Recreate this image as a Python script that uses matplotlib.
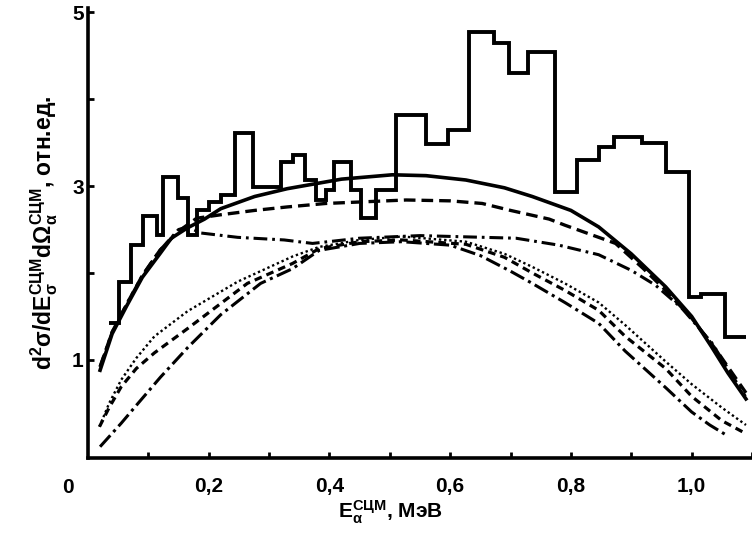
import matplotlib
matplotlib.use("Agg")
import matplotlib.pyplot as plt

plt.rcParams['font.family'] = ['Liberation Sans', 'DejaVu Sans']
plt.rcParams['font.weight'] = 'bold'
plt.rcParams['mathtext.fontset'] = 'custom'
plt.rcParams['mathtext.rm'] = 'Liberation Sans:bold'
plt.rcParams['mathtext.it'] = 'Liberation Sans:bold'
plt.rcParams['mathtext.bf'] = 'Liberation Sans:bold'
plt.rcParams['mathtext.default'] = 'bf'

# histogram (experiment)
hist_edges = [0.035, 0.052, 0.072, 0.091, 0.114, 0.125, 0.149, 0.166, 0.18, 0.20,
              0.22, 0.243, 0.273, 0.32, 0.339, 0.359, 0.378, 0.394, 0.408, 0.436,
              0.452, 0.477, 0.51, 0.56, 0.596, 0.631, 0.673, 0.698, 0.729, 0.774,
              0.81, 0.846, 0.871, 0.918, 0.957, 0.995, 1.015, 1.055, 1.09]
hist_vals = [1.42, 1.90, 2.32, 2.65, 2.44, 3.11, 2.86, 2.44, 2.72, 2.82,
             2.9, 3.61, 2.99, 3.28, 3.36, 3.07, 2.84, 2.95, 3.28, 2.95,
             2.63, 2.95, 3.82, 3.49, 3.64, 4.77, 4.65, 4.30, 4.54, 2.93,
             3.30, 3.45, 3.57, 3.50, 3.16, 1.72, 1.76, 1.26]

# upper group of calculated curves
solid_x = [0.02, 0.04, 0.064, 0.09, 0.119, 0.138, 0.165, 0.193, 0.22, 0.276, 0.33,
           0.42, 0.504, 0.56, 0.626, 0.69, 0.736, 0.8, 0.846, 0.9, 0.957, 1.0,
           1.033, 1.06, 1.09]
solid_y = [0.88, 1.30, 1.62, 1.95, 2.22, 2.40, 2.52, 2.62, 2.74, 2.88, 2.97,
           3.08, 3.13, 3.12, 3.07, 2.98, 2.88, 2.72, 2.53, 2.22, 1.84, 1.50,
           1.15, 0.85, 0.55]

dash_x = [0.02, 0.04, 0.064, 0.09, 0.119, 0.15, 0.18, 0.22, 0.276, 0.33, 0.394,
          0.527, 0.6, 0.653, 0.7, 0.764, 0.79, 0.874, 0.92, 0.957, 1.0, 1.04, 1.09]
dash_y = [0.92, 1.32, 1.64, 1.97, 2.26, 2.48, 2.63, 2.67, 2.72, 2.76, 2.80,
          2.84, 2.83, 2.80, 2.72, 2.62, 2.55, 2.34, 2.05, 1.80, 1.48, 1.12, 0.62]

dashdot_x = [0.02, 0.04, 0.064, 0.09, 0.119, 0.15, 0.165, 0.187, 0.248, 0.325,
             0.372, 0.45, 0.55, 0.709, 0.78, 0.846, 0.9, 0.94, 0.983, 1.033,
             1.06, 1.089]
dashdot_y = [0.92, 1.32, 1.64, 1.97, 2.26, 2.50, 2.53, 2.46, 2.41, 2.38,
             2.34, 2.40, 2.43, 2.40, 2.32, 2.21, 2.03, 1.86, 1.60, 1.20,
             0.90, 0.58]

# lower group of calculated curves
dot_x = [0.019, 0.035, 0.055, 0.08, 0.11, 0.165, 0.248, 0.339, 0.383, 0.45, 0.52,
         0.626, 0.69, 0.736, 0.79, 0.846, 0.89, 0.957, 1.0, 1.05, 1.09]
dot_y = [0.23, 0.50, 0.77, 1.02, 1.27, 1.56, 1.90, 2.19, 2.30, 2.38, 2.42,
         2.36, 2.22, 2.07, 1.88, 1.66, 1.40, 0.98, 0.72, 0.45, 0.25]

ldash_x = [0.019, 0.035, 0.055, 0.08, 0.11, 0.165, 0.264, 0.339, 0.383, 0.45, 0.52,
           0.626, 0.69, 0.736, 0.79, 0.846, 0.89, 0.957, 1.0, 1.05, 1.09]
ldash_y = [0.23, 0.45, 0.69, 0.90, 1.08, 1.36, 1.88, 2.11, 2.28, 2.36, 2.38,
           2.33, 2.18, 2.00, 1.80, 1.57, 1.27, 0.90, 0.58, 0.30, 0.15]

low_x = [0.02, 0.055, 0.083, 0.12, 0.165, 0.22, 0.286, 0.339, 0.383, 0.45, 0.52,
         0.6, 0.65, 0.7, 0.736, 0.79, 0.846, 0.89, 0.957, 1.0, 1.03, 1.056]
low_y = [0.0, 0.27, 0.50, 0.80, 1.14, 1.52, 1.88, 2.05, 2.26, 2.34, 2.36,
         2.32, 2.20, 2.02, 1.88, 1.66, 1.42, 1.10, 0.68, 0.40, 0.25, 0.14]

x_ticks = [0.1, 0.2, 0.3, 0.4, 0.5, 0.6, 0.7, 0.8, 0.9, 1.0, 1.1]
x_labels = ['', '0,2', '', '0,4', '', '0,6', '', '0,8', '', '1,0', '']
y_ticks = [1, 2, 3, 4, 5]
y_labels = ['1', '', '3', '', '5']

fig = plt.figure(figsize=(7.52, 5.35), dpi=100)
ax = fig.add_axes([88 / 752, 77 / 535, 664 / 752, 450 / 535])

ax.stairs(hist_vals, hist_edges, baseline=None, color='black', lw=2.8)
ax.plot(solid_x, solid_y, color='black', lw=2.6)
ax.plot(dash_x, dash_y, color='black', lw=2.4, ls=(0, (3.5, 1.8)))
ax.plot(dashdot_x, dashdot_y, color='black', lw=2.2, ls=(0, (4.5, 1.6, 0.9, 1.6)))
ax.plot(dot_x, dot_y, color='black', lw=1.7, ls=(0, (1, 1.2)))
ax.plot(ldash_x, ldash_y, color='black', lw=2.3, ls=(0, (2.4, 1.6)))
ax.plot(low_x, low_y, color='black', lw=2.2, ls=(0, (5, 1.5, 1, 1.5)))

ax.set_xlim(0, 1.1)
ax.set_ylim(-0.13, 5.05)
ax.spines['top'].set_visible(False)
ax.spines['right'].set_visible(False)
ax.spines['left'].set_linewidth(2.6)
ax.spines['bottom'].set_linewidth(2.6)

ax.set_xticks(x_ticks)
ax.set_xticklabels(x_labels)
ax.set_yticks(y_ticks)
ax.set_yticklabels(y_labels)
ax.tick_params(direction='in', length=4, width=2)
ax.tick_params(axis='x', pad=14, labelsize=15)
ax.tick_params(axis='y', pad=3, labelsize=15)
for lab in ax.get_xticklabels() + ax.get_yticklabels():
    lab.set_fontweight('bold')

ax.text(-0.033, -0.47, '0', ha='center', va='center', fontsize=15,
        fontweight='bold', clip_on=False)

ax.set_ylabel(r'$d^2\sigma/dE_\sigma^{СЦМ}d\Omega_\alpha^{СЦМ}$, отн.ед.',
              fontsize=16.5, fontweight='bold', labelpad=9)
fig.text(390 / 752, 1 - 512 / 535, r'$E_\alpha^{СЦМ}$, МэВ', ha='center',
         va='center', fontsize=15, fontweight='bold')

fig.savefig('out.png', dpi=100)
